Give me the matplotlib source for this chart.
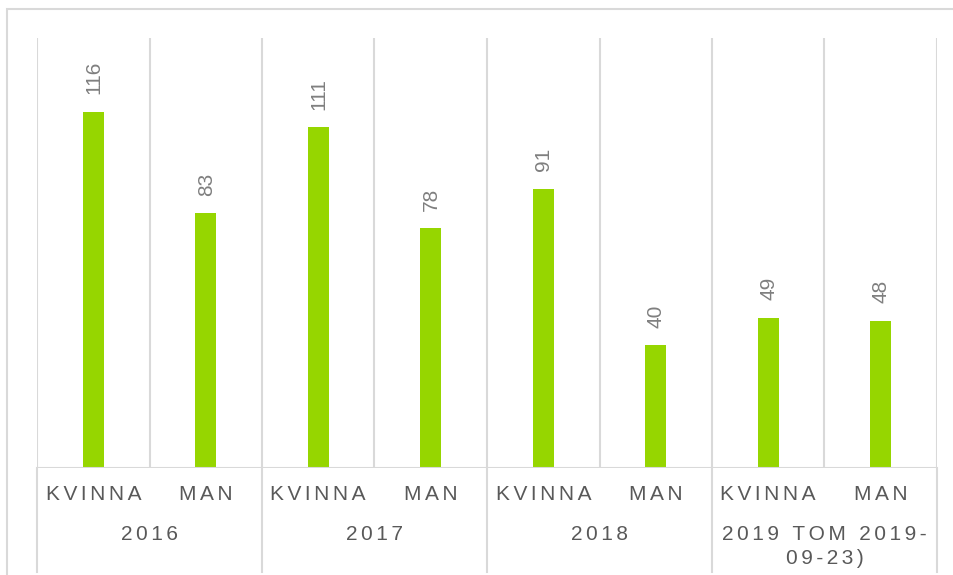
import numpy as np
import matplotlib.pyplot as plt
import matplotlib.transforms as mtransforms
from matplotlib.patches import Rectangle

plt.rcParams['font.family'] = ['Liberation Sans', 'DejaVu Sans']

# data
years = ['2016', '2017', '2018', '2019 TOM 2019-09-23)']
year_lines = [['2016'], ['2017'], ['2018'], ['2019 TOM 2019-', '09-23)']]
sexes = ['KVINNA', 'MAN']
kvinna = [116, 111, 91, 49]
man = [83, 78, 40, 48]

green = '#96d600'
grid_c = '#d9d9d9'
val_c = '#7f7f7f'
lab_c = '#595959'
W, H = 954, 575
GAP = '\u2006'


def spaced(s):
    # letter spacing like the original
    return (GAP + ' \u2009').join(GAP.join(w) for w in s.split(' '))


def fy(px):
    return 1 - px / H


fig = plt.figure(figsize=(W / 100, H / 100), dpi=100)
ax = fig.add_axes([37 / W, fy(468), 900 / W, 430 / H])

values = []
for k, m in zip(kvinna, man):
    values += [k, m]
x = np.arange(len(values))
ax.bar(x, values, width=0.19, color=green, zorder=3)

for xi, v in zip(x, values):
    ax.annotate(str(v), (xi, v), xytext=(0.5, 12.5), textcoords='offset points',
                rotation=90, ha='center', va='bottom', fontsize=15, color=val_c)

ax.set_xlim(-0.5, len(values) - 0.5)
ax.set_ylim(0, 140)
ax.set_xticks([])
ax.set_yticks([])
for s in ax.spines.values():
    s.set_visible(False)

# vertical gridlines at category boundaries
for b in np.arange(-0.5, len(values), 1):
    ax.axvline(b, color=grid_c, lw=1.5, zorder=1)
ax.axhline(0, color=grid_c, lw=1.5, zorder=4)

# two-level category axis
tr = mtransforms.blended_transform_factory(ax.transData, fig.transFigure)
for xi in x:
    fig.text(xi, fy(494), spaced(sexes[xi % 2]), transform=tr, ha='center',
             va='center', fontsize=15, color=lab_c)
for g, lines in enumerate(year_lines):
    for j, line in enumerate(lines):
        fig.text(2 * g + 0.5, fy(534 + 25 * j), spaced(line), transform=tr,
                 ha='center', va='center', fontsize=15, color=lab_c)
for b in np.arange(-0.5, len(values), 2):
    ax.plot([b, b], [fy(468), fy(572)], transform=tr, color=grid_c, lw=1.5,
            clip_on=False)

# chart border
fig.patches.append(Rectangle((7 / W, -0.1), 1.2, fy(9) + 0.1,
                             transform=fig.transFigure, fill=False,
                             edgecolor=grid_c, lw=1.5))

fig.savefig('out.png', dpi=100)
